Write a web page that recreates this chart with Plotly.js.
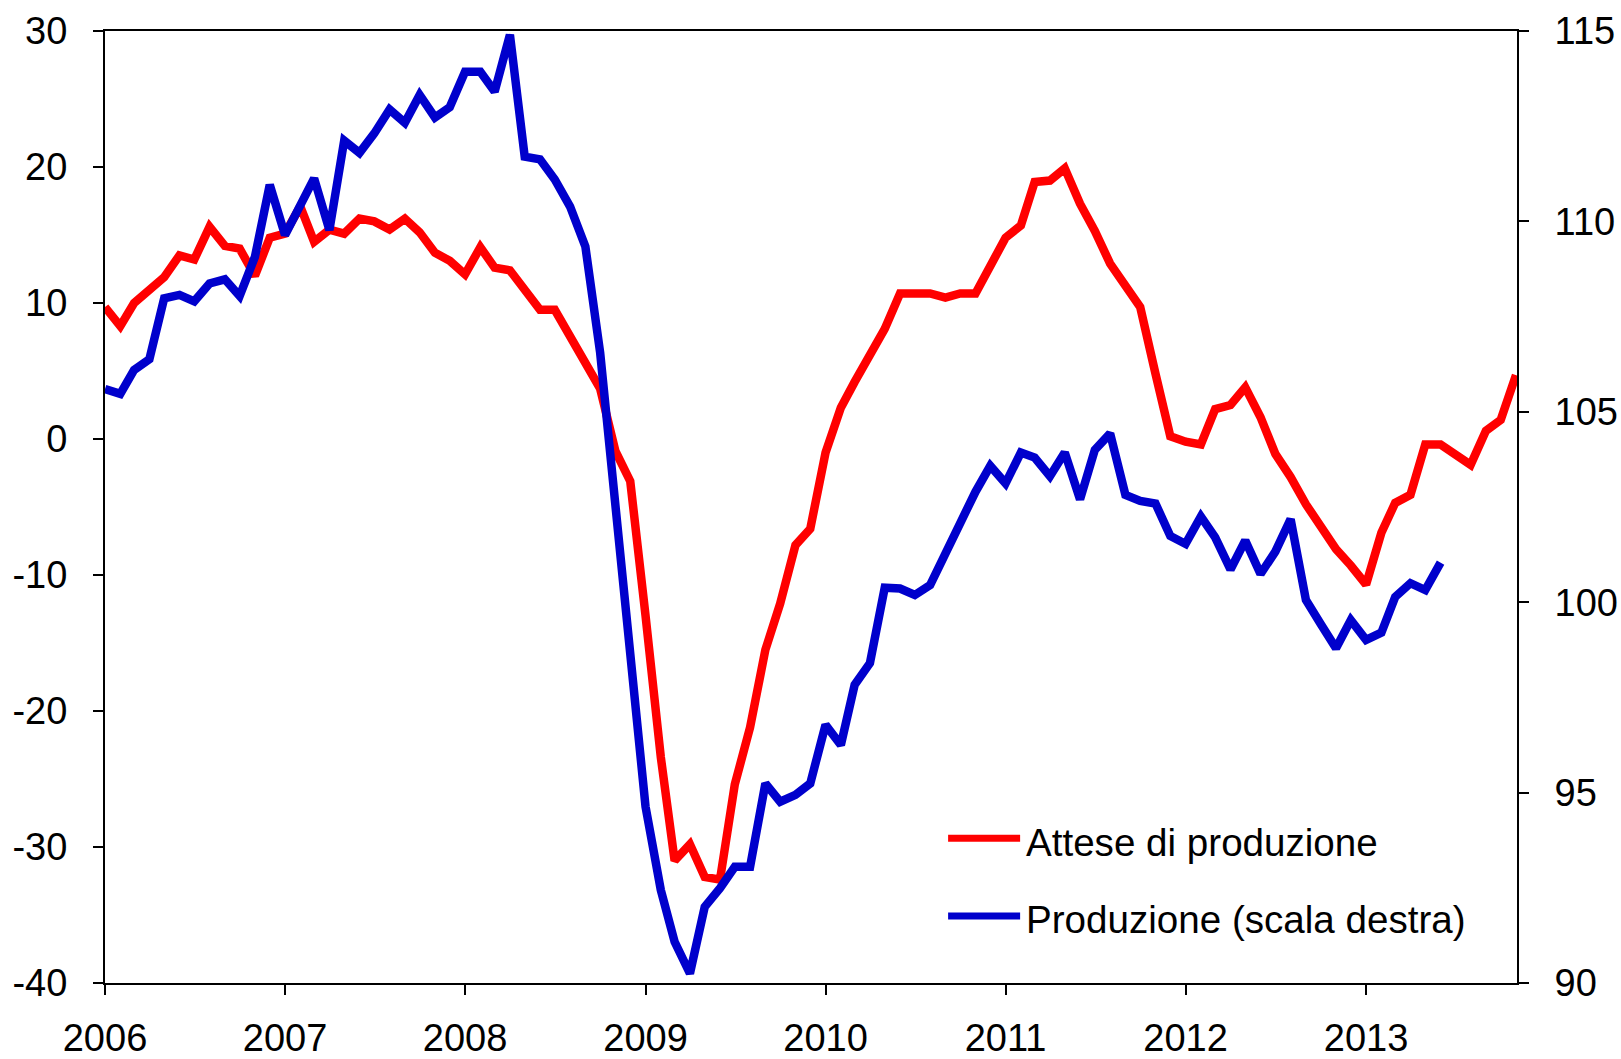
<!DOCTYPE html>
<html>
<head>
<meta charset="utf-8">
<script src="https://cdn.plot.ly/plotly-3.0.1.min.js"></script>
<style>
html,body{margin:0;padding:0;background:#fff;}
#chart{width:1621px;height:1059px;}
</style>
</head>
<body>
<div id="chart"></div>
<script>
// Monthly observations, January 2006 onwards
const startYear = 2006;
const yearTicks = ["2006","2007","2008","2009","2010","2011","2012","2013"];

// Attese di produzione (left axis), Jan 2006 - Nov 2013
const attese = [
  9.7, 8.3, 10.0, 11.0, 11.9, 13.5, 13.2, 15.6, 14.2, 14.0, 12.0, 14.8,
  15.1, 17.1, 14.5, 15.4, 15.1, 16.2, 16.0, 15.4, 16.2, 15.2, 13.7, 13.1,
  12.1, 14.1, 12.6, 12.4, 11.0, 9.5, 9.5, 7.6, 5.4, 3.7, -0.9, -3.1,
  -13.0, -23.4, -31.0, -29.8, -32.2, -32.4, -25.4, -21.2, -15.5, -12.1, -7.8, -6.6,
  -1.0, 2.3, 4.2, 6.1, 8.1, 10.7, 10.7, 10.7, 10.4, 10.7, 10.7, 12.6,
  14.8, 15.7, 18.9, 19.0, 19.9, 17.3, 15.3, 12.9, 11.4, 9.7, 4.8, 0.2,
  -0.2, -0.4, 2.2, 2.5, 3.8, 1.6, -1.1, -2.8, -4.8, -6.4, -8.1, -9.3,
  -10.7, -6.9, -4.7, -4.1, -0.4, -0.4, -1.2, -1.9, 0.6, 1.4, 4.7
];

// Produzione (right axis), Jan 2006 - Jun 2013
const produzione = [
  105.6, 105.47, 106.1, 106.38, 107.98, 108.07, 107.9, 108.37, 108.48, 108.04, 109.07, 110.96,
  109.64, 110.39, 111.13, 109.77, 112.12, 111.8, 112.31, 112.94, 112.59, 113.32, 112.73, 113.0,
  113.93, 113.93, 113.41, 114.9, 111.7, 111.63, 111.1, 110.39, 109.34, 106.55, 102.6, 98.5,
  94.63, 92.44, 91.08, 90.25, 92.0, 92.49, 93.05, 93.05, 95.24, 94.76, 94.94, 95.24,
  96.78, 96.25, 97.83, 98.4, 100.38, 100.36, 100.19, 100.45, 101.28, 101.98, 102.9, 103.58,
  103.12, 103.93, 103.8, 103.31, 103.93, 102.7, 104.0, 104.43, 102.82, 102.66, 102.59, 101.74,
  101.53, 102.25, 101.7, 100.86, 101.62, 100.74, 101.33, 102.18, 100.06, 99.43, 98.79, 99.53,
  99.01, 99.2, 100.14, 100.5, 100.32, 101.04
];

const seriesNames = ["Attese di produzione", "Produzione (scala destra)"];
const leftTicks = [-40, -30, -20, -10, 0, 10, 20, 30];
const rightTicks = [90, 95, 100, 105, 110, 115];

function monthDate(i) {
  const y = startYear + Math.floor(i / 12);
  const m = (i % 12) + 1;
  return y + "-" + (m < 10 ? "0" + m : m) + "-01";
}
const xAttese = attese.map((_, i) => monthDate(i));
const xProd = produzione.map((_, i) => monthDate(i));

const RED = "#ff0000";
const BLUE = "#0000cc";
const FONT = "Liberation Sans, Arial, sans-serif";

const traces = [
  { x: xAttese, y: attese, type: "scatter", mode: "lines", name: seriesNames[0],
    line: { color: RED, width: 8.5, shape: "linear" }, yaxis: "y", showlegend: false, hoverinfo: "skip" },
  { x: xProd, y: produzione, type: "scatter", mode: "lines", name: seriesNames[1],
    line: { color: BLUE, width: 8.5, shape: "linear" }, yaxis: "y2", showlegend: false, hoverinfo: "skip" }
];

const axisCommon = {
  showgrid: false, zeroline: false, showline: true, linecolor: "#000", linewidth: 2,
  ticks: "outside", ticklen: 10, tickwidth: 2, tickcolor: "#000",
  tickfont: { family: FONT, size: 38, color: "#000" }
};

const legendY = [0.152, 0.0704];
const shapes = [];
const annotations = [];
[RED, BLUE].forEach((c, k) => {
  shapes.push({ type: "line", xref: "paper", yref: "paper", x0: 0.5971, x1: 0.6481,
    y0: legendY[k], y1: legendY[k], line: { color: c, width: 7 }, layer: "above" });
  annotations.push({ xref: "paper", yref: "paper", x: 0.6505, y: legendY[k] - 0.004,
    xanchor: "left", yanchor: "middle", showarrow: false, text: seriesNames[k],
    font: { family: FONT, size: 38.6, color: "#000" } });
});

const layout = {
  width: 1621, height: 1059,
  paper_bgcolor: "#fff", plot_bgcolor: "#fff",
  margin: { l: 105, r: 104, t: 31, b: 76, pad: 0 },
  font: { family: FONT, color: "#000" },
  xaxis: Object.assign({}, axisCommon, {
    type: "date", range: ["2006-01-01", "2013-11-03"],
    tickvals: yearTicks.map(y => y + "-01-01"), ticktext: yearTicks,
    mirror: true, ticklabelstandoff: 10
  }),
  yaxis: Object.assign({}, axisCommon, {
    range: [-40, 30], tickvals: leftTicks, ticktext: leftTicks.map(String),
    ticklabelstandoff: 18
  }),
  yaxis2: Object.assign({}, axisCommon, {
    overlaying: "y", side: "right", range: [90, 115],
    tickvals: rightTicks, ticktext: rightTicks.map(String), ticklabelstandoff: 18
  }),
  shapes: shapes,
  annotations: annotations,
  showlegend: false
};

Plotly.newPlot("chart", traces, layout, { staticPlot: true, displayModeBar: false });
</script>
</body>
</html>
